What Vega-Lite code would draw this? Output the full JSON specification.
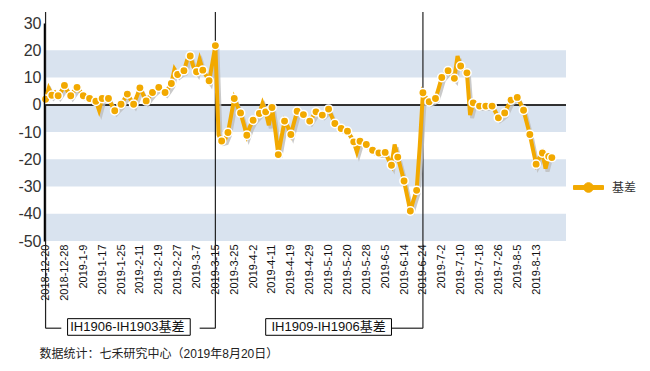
{
  "$schema": "https://vega.github.io/schema/vega-lite/v6.json",
  "autosize": {"type": "none"},
  "padding": {"left": 44, "top": 23, "right": 84, "bottom": 130},
  "width": 522,
  "height": 218,
  "background": "white",
  "config": {
    "view": {"stroke": null},
    "font": "Liberation Sans, Noto Sans CJK SC",
    "axis": {"labelOverlap": false}
  },
  "datasets": {
    "basis": [
      {"d":"2018-12-20","v":2},{"d":"2018-12-21","v":6},{"d":"2018-12-24","v":3.5},{"d":"2018-12-25","v":4.5},{"d":"2018-12-26","v":3.3},{"d":"2018-12-27","v":5},{"d":"2018-12-28","v":7.1},
      {"d":"2019-01-02","v":5},{"d":"2019-01-03","v":3.3},{"d":"2019-01-04","v":5},{"d":"2019-01-07","v":6.4},{"d":"2019-01-08","v":5},{"d":"2019-01-09","v":3.3},{"d":"2019-01-10","v":2.8},{"d":"2019-01-11","v":2.3},{"d":"2019-01-14","v":1.8},{"d":"2019-01-15","v":1.3},{"d":"2019-01-16","v":-2},{"d":"2019-01-17","v":2.3},{"d":"2019-01-18","v":2.4},{"d":"2019-01-21","v":2.3},{"d":"2019-01-22","v":0},{"d":"2019-01-23","v":-2.2},{"d":"2019-01-24","v":-1},{"d":"2019-01-25","v":0.2},{"d":"2019-01-28","v":2},{"d":"2019-01-29","v":3.9},{"d":"2019-01-30","v":2},{"d":"2019-01-31","v":0.2},
      {"d":"2019-02-01","v":3},{"d":"2019-02-11","v":6.2},{"d":"2019-02-12","v":3.8},{"d":"2019-02-13","v":1.4},{"d":"2019-02-14","v":3},{"d":"2019-02-15","v":4.5},{"d":"2019-02-18","v":5.5},{"d":"2019-02-19","v":6.4},{"d":"2019-02-20","v":5.5},{"d":"2019-02-21","v":4.5},{"d":"2019-02-22","v":6},{"d":"2019-02-25","v":7.8},{"d":"2019-02-26","v":13},{"d":"2019-02-27","v":11.1},{"d":"2019-02-28","v":12},
      {"d":"2019-03-01","v":12.5},{"d":"2019-03-04","v":16.4},{"d":"2019-03-05","v":17.9},{"d":"2019-03-06","v":14},{"d":"2019-03-07","v":12.1},{"d":"2019-03-08","v":16.6},{"d":"2019-03-11","v":12.7},{"d":"2019-03-12","v":10.8},{"d":"2019-03-13","v":8.8},{"d":"2019-03-14","v":15},{"d":"2019-03-15","v":21.7},{"d":"2019-03-18","v":-11},{"d":"2019-03-19","v":-13.3},{"d":"2019-03-20","v":-13},{"d":"2019-03-21","v":-10.2},{"d":"2019-03-22","v":-4},{"d":"2019-03-25","v":2.3},{"d":"2019-03-26","v":-0.5},{"d":"2019-03-27","v":-3},{"d":"2019-03-28","v":-7},{"d":"2019-03-29","v":-11.2},
      {"d":"2019-04-01","v":-8},{"d":"2019-04-02","v":-5.7},{"d":"2019-04-03","v":-4.5},{"d":"2019-04-04","v":-3.2},{"d":"2019-04-08","v":0.5},{"d":"2019-04-09","v":-2.6},{"d":"2019-04-10","v":-7.5},{"d":"2019-04-11","v":-1},{"d":"2019-04-12","v":-9},{"d":"2019-04-15","v":-18.3},{"d":"2019-04-16","v":-12},{"d":"2019-04-17","v":-6},{"d":"2019-04-18","v":-8},{"d":"2019-04-19","v":-10.9},{"d":"2019-04-22","v":-6.5},{"d":"2019-04-23","v":-2.4},{"d":"2019-04-24","v":-3},{"d":"2019-04-25","v":-3.6},{"d":"2019-04-26","v":-4.8},{"d":"2019-04-29","v":-6},{"d":"2019-04-30","v":-4.3},
      {"d":"2019-05-06","v":-2.6},{"d":"2019-05-07","v":-3.2},{"d":"2019-05-08","v":-3.8},{"d":"2019-05-09","v":-2.7},{"d":"2019-05-10","v":-1.6},{"d":"2019-05-13","v":-4.3},{"d":"2019-05-14","v":-6.9},{"d":"2019-05-15","v":-7.8},{"d":"2019-05-16","v":-8.7},{"d":"2019-05-17","v":-9.2},{"d":"2019-05-20","v":-9.7},{"d":"2019-05-21","v":-11.6},{"d":"2019-05-22","v":-13.6},{"d":"2019-05-23","v":-17.3},{"d":"2019-05-24","v":-13.4},{"d":"2019-05-27","v":-14},{"d":"2019-05-28","v":-14.6},{"d":"2019-05-29","v":-15.6},{"d":"2019-05-30","v":-16.7},{"d":"2019-05-31","v":-17.2},
      {"d":"2019-06-03","v":-17.7},{"d":"2019-06-04","v":-17.6},{"d":"2019-06-05","v":-17.5},{"d":"2019-06-06","v":-20},{"d":"2019-06-10","v":-22.2},{"d":"2019-06-11","v":-14.6},{"d":"2019-06-12","v":-19.2},{"d":"2019-06-13","v":-23.6},{"d":"2019-06-14","v":-28},{"d":"2019-06-17","v":-33.5},{"d":"2019-06-18","v":-39},{"d":"2019-06-19","v":-35},{"d":"2019-06-20","v":-31.4},{"d":"2019-06-21","v":-15},{"d":"2019-06-24","v":4.4},{"d":"2019-06-25","v":2.5},{"d":"2019-06-26","v":1.1},{"d":"2019-06-27","v":1.7},{"d":"2019-06-28","v":2.3},
      {"d":"2019-07-01","v":6},{"d":"2019-07-02","v":10},{"d":"2019-07-03","v":11.3},{"d":"2019-07-04","v":12.5},{"d":"2019-07-05","v":11},{"d":"2019-07-08","v":9.7},{"d":"2019-07-09","v":17.9},{"d":"2019-07-10","v":14.2},{"d":"2019-07-11","v":13},{"d":"2019-07-12","v":11.7},{"d":"2019-07-15","v":-3.8},{"d":"2019-07-16","v":0.7},{"d":"2019-07-17","v":0},{"d":"2019-07-18","v":-0.5},{"d":"2019-07-19","v":-0.5},{"d":"2019-07-22","v":-0.5},{"d":"2019-07-23","v":-0.5},{"d":"2019-07-24","v":-0.5},{"d":"2019-07-25","v":-2.5},{"d":"2019-07-26","v":-4.8},{"d":"2019-07-29","v":-4},{"d":"2019-07-30","v":-3},{"d":"2019-07-31","v":-0.5},
      {"d":"2019-08-01","v":1.7},{"d":"2019-08-02","v":2.2},{"d":"2019-08-05","v":2.7},{"d":"2019-08-06","v":0.5},{"d":"2019-08-07","v":-2},{"d":"2019-08-08","v":-6.5},{"d":"2019-08-09","v":-10.9},{"d":"2019-08-12","v":-16.5},{"d":"2019-08-13","v":-21.8},{"d":"2019-08-14","v":-19.5},{"d":"2019-08-15","v":-17.7},{"d":"2019-08-16","v":-23.4},{"d":"2019-08-19","v":-19},{"d":"2019-08-20","v":-19.4},
      {"d":"2019-08-21","v":null},{"d":"2019-08-22","v":null},{"d":"2019-08-23","v":null},{"d":"2019-08-26","v":null}
    ]
  },
  "layer": [
    {
      "data": {"values": [{"lo":10,"hi":20},{"lo":-10,"hi":0},{"lo":-30,"hi":-20},{"lo":-50,"hi":-40}]},
      "mark": {"type": "rect", "color": "#d9e3ef"},
      "encoding": {
        "y": {"field": "lo", "type": "quantitative", "scale": {"domain": [-50, 30], "nice": false, "zero": false},
              "axis": {"tickCount": 9, "labelExpr": "replace(datum.label, '\u2212', '-')", "labelOverlap": false, "labelBound": false, "labelFlush": false, "labelFontSize": 16, "labelColor": "#333", "labelPadding": 3, "ticks": false, "grid": false, "domainColor": "#000", "domainWidth": 1.5, "zindex": 1, "title": null}},
        "y2": {"field": "hi"}
      }
    },
    {
      "data": {"name": "basis"},
      "mark": {"type": "rule", "color": "#333", "strokeWidth": 1.2},
      "encoding": {"y": {"datum": 0}}
    },
    {
      "data": {"values": [{"d":"2018-12-20"},{"d":"2019-03-15"},{"d":"2019-06-24"}]},
      "mark": {"type": "rule", "color": "#222", "strokeWidth": 1.2, "clip": false},
      "encoding": {"x": {"field": "d", "type": "ordinal"}, "y": {"datum": 34}, "y2": {"datum": -82}}
    },
    {
      "data": {"values": [{"a":"2018-12-20","b":"2018-12-27"},{"a":"2019-03-08","b":"2019-03-15"},{"a":"2019-06-10","b":"2019-06-24"}]},
      "mark": {"type": "rule", "color": "#222", "strokeWidth": 1.2, "clip": false},
      "encoding": {"x": {"field": "a", "type": "ordinal"}, "x2": {"field": "b"}, "y": {"datum": -82}}
    },
    {
      "data": {"values": [{"a":"2019-01-02","b":"2019-03-05","c":"2019-01-29","t":"IH1906-IH1903基差"},{"a":"2019-04-09","b":"2019-06-10","c":"2019-05-10","t":"IH1909-IH1906基差"}]},
      "layer": [
        {"mark": {"type": "rect", "fill": "white", "stroke": "#000", "strokeWidth": 1, "clip": false},
         "encoding": {"x": {"field": "a", "type": "ordinal"}, "x2": {"field": "b"}, "y": {"datum": -78.5}, "y2": {"datum": -84.6}}},
        {"mark": {"type": "text", "fontSize": 13, "color": "#111", "align": "center", "baseline": "middle", "clip": false},
         "encoding": {"x": {"field": "c", "type": "ordinal"}, "y": {"datum": -81.6}, "text": {"field": "t"}}}
      ]
    },
    {
      "data": {"values": [{"d":"2018-12-20","t":"数据统计：七禾研究中心（2019年8月20日）"}]},
      "mark": {"type": "text", "fontSize": 12, "color": "#222", "align": "left", "baseline": "middle", "dx": -6, "clip": false},
      "encoding": {"x": {"field": "d", "type": "ordinal"}, "y": {"datum": -91.3}, "text": {"field": "t"}}
    },
    {
      "data": {"name": "basis"},
      "mark": {"type": "line", "color": "#bdbdbd", "strokeWidth": 4, "opacity": 0.8, "xOffset": 2, "yOffset": 3},
      "encoding": {"x": {"field": "d", "type": "ordinal"}, "y": {"field": "v", "type": "quantitative"}}
    },
    {
      "data": {"name": "basis"},
      "mark": {"type": "line", "strokeWidth": 4},
      "encoding": {
        "x": {"field": "d", "type": "ordinal", "scale": {"type": "point", "padding": 0.5},
              "axis": {"values": ["2018-12-20","2018-12-28","2019-01-09","2019-01-17","2019-01-25","2019-02-11","2019-02-19","2019-02-27","2019-03-07","2019-03-15","2019-03-25","2019-04-02","2019-04-11","2019-04-19","2019-04-29","2019-05-10","2019-05-20","2019-05-28","2019-06-05","2019-06-14","2019-06-24","2019-07-02","2019-07-10","2019-07-18","2019-07-26","2019-08-05","2019-08-13"],
                       "labelExpr": "replace(datum.value, regexp('-0', 'g'), '-')", "labelAngle": 270, "labelAlign": "right", "labelBaseline": "middle", "labelFontSize": 11, "labelColor": "#111", "labelPadding": 3, "labelOverlap": false, "labelFlush": false, "ticks": false, "domain": false, "grid": false, "title": null}},
        "y": {"field": "v", "type": "quantitative"},
        "color": {"datum": "基差", "scale": {"range": ["#f2a900"]},
                  "legend": {"title": null, "orient": "none", "legendX": 529, "legendY": 149, "padding": 0,
                             "symbolType": "M-1,-0.13L1,-0.13L1,0.13L-1,0.13Z M0.32,0A0.32,0.32,0,1,1,-0.32,0A0.32,0.32,0,1,1,0.32,0Z",
                             "symbolSize": 900, "symbolStrokeWidth": 1, "labelFontSize": 12, "labelColor": "#333", "labelOffset": 8,
                             "labelFont": "Liberation Sans, Noto Sans CJK SC",
                             "encode": {"symbols": {"update": {"fill": {"value": "#f2a900"}, "stroke": {"value": "white"}, "strokeWidth": {"value": 1}}}}}}
      }
    },
    {
      "data": {"name": "basis"},
      "transform": [
        {"window": [{"op": "row_number", "as": "rn"}]},
        {"filter": "isValid(datum.v) && (datum.rn % 2 == 1 || datum.rn == 162)"}
      ],
      "mark": {"type": "circle", "size": 70, "fill": "#f2a900", "stroke": "white", "strokeWidth": 1.5, "opacity": 1},
      "encoding": {"x": {"field": "d", "type": "ordinal"}, "y": {"field": "v", "type": "quantitative"}}
    }
  ]
}
